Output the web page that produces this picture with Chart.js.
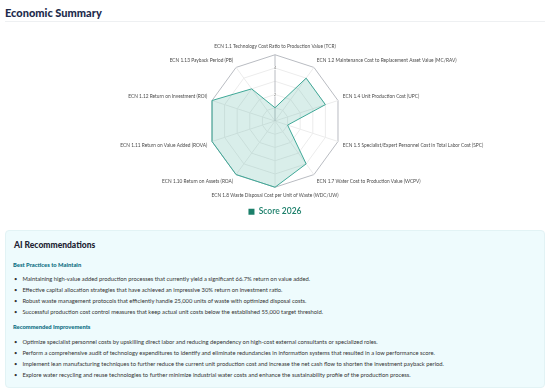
<!DOCTYPE html>
<html>
<head>
<meta charset="utf-8">
<script src="https://cdn.jsdelivr.net/npm/chart.js@4.4.0/dist/chart.umd.min.js"></script>
<style>
  body { margin: 0; width: 550px; height: 391px; background: #fff; font-family: Lato, "Noto Sans", sans-serif; position: relative; overflow: hidden; }
  .title { position: absolute; left: 5px; top: 6px; font-size: 11px; font-weight: 900; color: #1d2b4c; }
  .sep { position: absolute; left: 5px; right: 5px; top: 21px; border-top: 1px solid #eef0f2; }
  .chartBox { position: absolute; left: 0; top: 44px; width: 550px; height: 182px; }
  .ai { position: absolute; left: 5px; top: 230px; width: 538px; height: 156px; background: #eefbfd; border: 1px solid #e2f3f5; border-radius: 4px; }
  .ai h2 { position: absolute; left: 8px; top: 9px; margin: 0; font-size: 8.5px; font-weight: 900; color: #1d2333; }
  .ai h3 { position: absolute; left: 7px; margin: 0; font-size: 5.8px; font-weight: 900; color: #0c6f84; }
  .ai ul { position: absolute; left: 7px; margin: 0; padding: 0; list-style: none; font-size: 5.8px; color: #333; }
  .ai li { height: 11px; line-height: 11px; }
  .ai li::before { content: "\2022"; margin-right: 5px; margin-left: 1px; }
</style>
</head>
<body>
<div class="title">Economic Summary</div>
<div class="sep"></div>
<div class="chartBox"><canvas id="radar"></canvas></div>
<div class="ai">
  <h2>AI Recommendations</h2>
  <h3 style="top:30px">Best Practices to Maintain</h3>
  <ul id="best" style="top:42px"></ul>
  <h3 style="top:92px">Recommended Improvements</h3>
  <ul id="improve" style="top:105px"></ul>
</div>
<script>
// indicator names around the radar
const indicators = [
    'ECN 1.1 Technology Cost Ratio to Production Value (TCR)',
    'ECN 1.2 Maintenance Cost to Replacement Asset Value (MC/RAV)',
    'ECN 1.4 Unit Production Cost (UPC)',
    'ECN 1.5 Specialist/Expert Personnel Cost in Total Labor Cost (SPC)',
    'ECN 1.7 Water Cost to Production Value (WCPV)',
    'ECN 1.8 Waste Disposal Cost per Unit of Waste (WDC/UW)',
    'ECN 1.10 Return on Assets (ROA)',
    'ECN 1.11 Return on Value Added (ROVA)',
    'ECN 1.12 Return on Investment (ROI)',
    'ECN 1.13 Payback Period (PB)'
];
const scores2026 = [1, 4, 4, 1, 4, 5, 5, 5, 5, 3];
const seriesName = 'Score 2026';

const bestPractices = [
    'Maintaining high-value added production processes that currently yield a significant 66.7% return on value added.',
    'Effective capital allocation strategies that have achieved an impressive 30% return on investment ratio.',
    'Robust waste management protocols that efficiently handle 25,000 units of waste with optimized disposal costs.',
    'Successful production cost control measures that keep actual unit costs below the established 55,000 target threshold.'
];
const improvements = [
    'Optimize specialist personnel costs by upskilling direct labor and reducing dependency on high-cost external consultants or specialized roles.',
    'Perform a comprehensive audit of technology expenditures to identify and eliminate redundancies in information systems that resulted in a low performance score.',
    'Implement lean manufacturing techniques to further reduce the current unit production cost and increase the net cash flow to shorten the investment payback period.',
    'Explore water recycling and reuse technologies to further minimize industrial water costs and enhance the sustainability profile of the production process.'
];

function fillList(id, items) {
    let ul = document.getElementById(id);
    for (let text of items) {
        let li = document.createElement('li');
        li.textContent = text;
        ul.appendChild(li);
    }
}
fillList('best', bestPractices);
fillList('improve', improvements);

let ctx = document.getElementById('radar').getContext('2d');
new Chart(ctx, {
    type: 'radar',
    data: {
        labels: indicators,
        datasets: [{
            label: seriesName,
            data: scores2026,
            borderColor: '#3fa897',
            backgroundColor: 'rgba(63, 168, 151, 0.2)',
            borderWidth: 1,
            pointRadius: 0,
            pointHoverRadius: 0
        }]
    },
    options: {
        responsive: true,
        maintainAspectRatio: false,
        animation: false,
        layout: { padding: 0 },
        scales: {
            r: {
                min: 0,
                max: 5,
                ticks: {
                    stepSize: 1,
                    font: { size: 4 },
                    color: '#777',
                    backdropColor: 'rgba(255,255,255,0.8)',
                    backdropPadding: 0,
                    callback: v => (v % 2 === 0 ? v : '')
                },
                grid: {
                    color: c => (c.tick && c.tick.value === 5 ? '#b9bcc2' : '#ececec'),
                    lineWidth: 1
                },
                angleLines: {
                    color: c => (c.index === 0 ? '#b9bcc2' : '#ececec')
                },
                pointLabels: {
                    font: { size: 4.8, family: 'Lato' },
                    color: '#4a4a4a',
                    padding: 3
                }
            }
        },
        plugins: {
            legend: {
                position: 'bottom',
                labels: {
                    boxWidth: 6,
                    boxHeight: 6,
                    padding: 9,
                    color: '#1b7f6a',
                    font: { size: 8.5, family: 'Lato', weight: '600' },
                    generateLabels: chart => chart.data.datasets.map((d, i) => ({
                        text: d.label,
                        fillStyle: '#1b7f6a',
                        strokeStyle: '#1b7f6a',
                        lineWidth: 0,
                        fontColor: '#1b7f6a',
                        datasetIndex: i
                    }))
                }
            },
            tooltip: { enabled: false }
        }
    }
});
</script>
</body>
</html>
